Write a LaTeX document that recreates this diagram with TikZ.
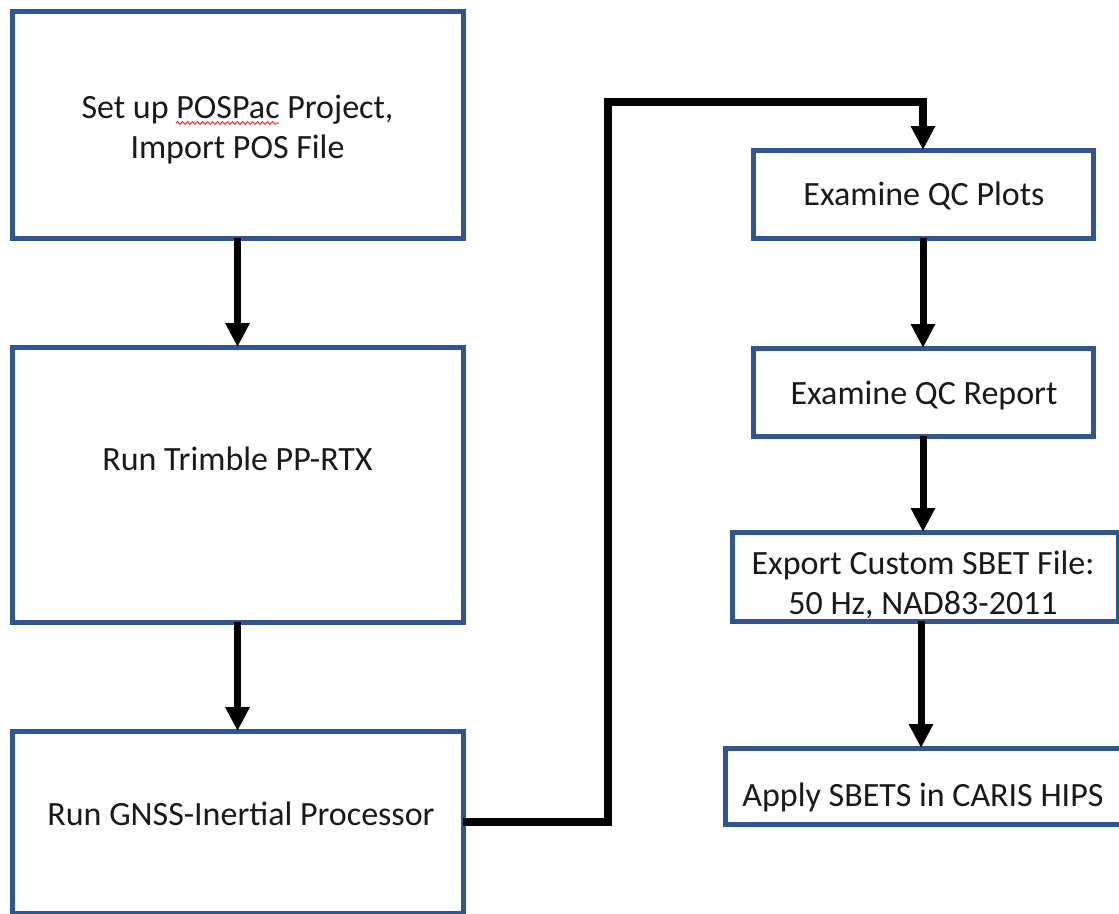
\documentclass[tikz,border=0pt]{standalone}
\usepackage{fontspec}
\setmainfont{Carlito}
\usetikzlibrary{arrows.meta,decorations.pathmorphing}
\definecolor{boxblue}{HTML}{2F5597}
\tikzset{
  box/.style={draw=boxblue, line width=5pt, fill=white, rectangle, inner sep=0pt, outer sep=0pt},
  label/.style={font=\fontsize{34}{40}\selectfont, text=black!90, align=center, inner sep=0pt},
  flow/.style={line width=7pt, draw=black, -{Triangle[width=23pt,length=24pt]}},
}
\begin{document}
\begin{tikzpicture}[x=1pt,y=-1pt]
\useasboundingbox (0,0) rectangle (1119,913);
% left column
\node[box, minimum width=451pt, minimum height=227pt] (b1) at (237.5,124.5) {};
\node[box, minimum width=451pt, minimum height=275pt] (b2) at (237.5,484.5) {};
\node[box, minimum width=451pt, minimum height=182pt] (b3) at (237.5,822) {};
% right column
\node[box, minimum width=340pt, minimum height=88pt] (ba) at (923,194) {};
\node[box, minimum width=340pt, minimum height=88pt] (bb) at (923,392) {};
\node[box, minimum width=386pt, minimum height=89pt] (bc) at (925,576.5) {};
\node[box, minimum width=396pt, minimum height=76pt] (bd) at (923,786) {};
% texts
\node[label] (t1) at (237.5,130) {Set up POSPac Project,\\Import POS File};
\node[label] (t2) at (237.5,459) {Run Trimble PP-RTX};
\node[label] (t3) at (241,814) {Run GNSS-Inertial Processor};
\node[label] (ta) at (924,196) {Examine QC Plots};
\node[label] (tb) at (924,396) {Examine QC Report};
\node[label] (tc) at (923,585) {Export Custom SBET File:\\50 Hz, NAD83-2011};
\node[label] (td) at (923,797) {Apply SBETS in CARIS HIPS};
% spell-check squiggle
\draw[red!80, line width=1pt, decorate, decoration={snake, amplitude=1.4pt, segment length=5pt}] (176,123) -- (279,123);
% connectors
\coordinate (c1) at (607.5,102);
\draw[flow] (b1.south) -- (b2.north);
\draw[flow] (b2.south) -- (b3.north);
\draw[flow, line width=8pt] (b3.east) -| (c1) -| (ba.north);
\draw[flow] (ba.south) -- (bb.north);
\draw[flow] (bb.south) -- (bb.south |- bc.north);
\draw[flow] (bc.south -| 921,0) -- (921,0 |- bd.north);
\end{tikzpicture}
\end{document}
